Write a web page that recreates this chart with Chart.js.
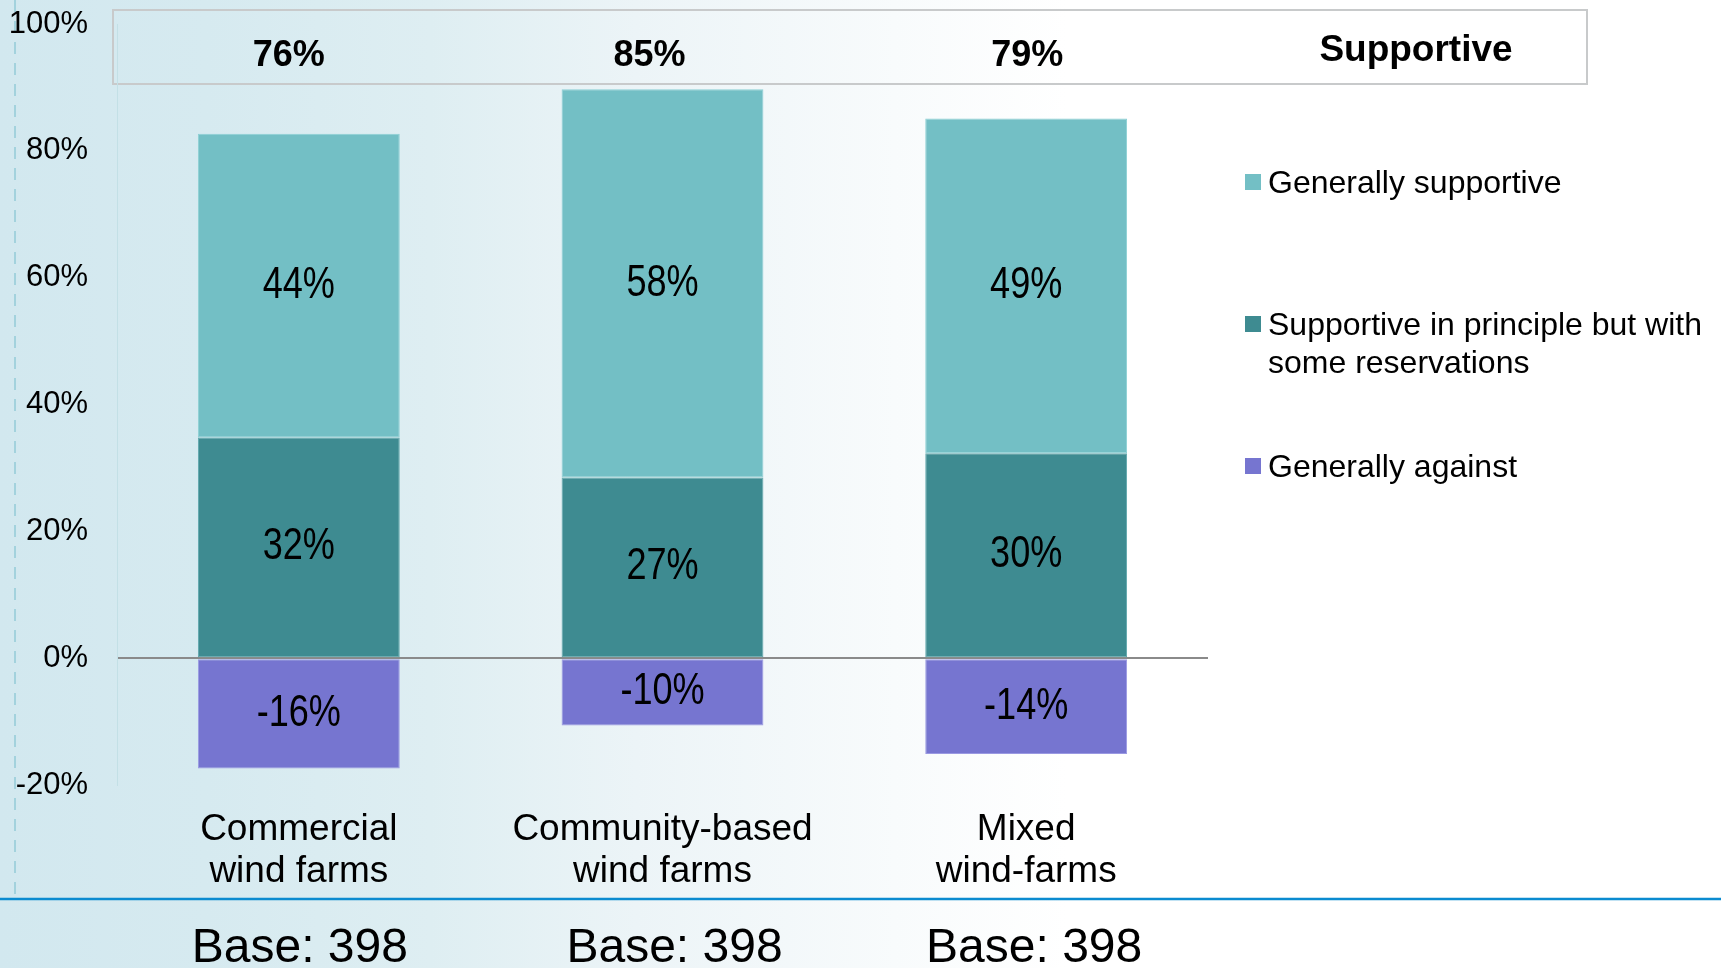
<!DOCTYPE html>
<html>
<head>
<meta charset="utf-8">
<script src="https://cdn.jsdelivr.net/npm/chart.js@4.4.1/dist/chart.umd.min.js"></script>
<style>
  html, body { margin: 0; padding: 0; overflow: hidden; }
  body {
    width: 1721px; height: 968px;
    background: linear-gradient(to right, #d2e8ef 0%, #d6eaf0 12%, #deeef2 25%, #ecf4f7 37%, #f8fbfc 52%, #ffffff 62%, #ffffff 100%);
  }
  #wrap { position: absolute; left: 0; top: 0; width: 1721px; height: 968px; }
</style>
</head>
<body>
<div id="wrap"><canvas id="chart" width="1721" height="968"></canvas></div>
<script>
// Categorias e valores (alturas lidas no eixo)
const categories = [['Commercial', 'wind farms'], ['Community-based', 'wind farms'], ['Mixed', 'wind-farms']];
const generallySupportive = [47.9, 61.2, 52.8];
const withReservations = [34.8, 28.5, 32.3];
const generallyAgainst = [-17.4, -10.6, -15.1];

// Rótulos impressos nas barras
const supportiveLabels = ['44%', '58%', '49%'];
const reservationLabels = ['32%', '27%', '30%'];
const againstLabels = ['-16%', '-10%', '-14%'];

// Totais "Supportive" e bases
const supportiveTotals = ['76%', '85%', '79%'];
const baseSizes = [398, 398, 398];

// Eixo y
const yMin = -20;
const yMax = 100;
const yStep = 20;

const legendItems = [
    { lines: ['Generally supportive'], color: '#73bfc5' },
    { lines: ['Supportive in principle but with', 'some reservations'], color: '#3e8b91' },
    { lines: ['Generally against'], color: '#7675d0' }
];

const FONT = '"Liberation Sans", Arial, sans-serif';

// pequenos ajustes horizontais dos textos de cima e de baixo
const totalNudge = [-10, -13, 1];
const baseNudge = [1, 12, 8];

// Fundo: linha tracejada, linha azul, caixa de totais, legenda e bases
const decorPlugin = {
    id: 'decor',
    beforeDraw(chart) {
        const ctx = chart.ctx;
        ctx.save();
        // linha tracejada à esquerda
        ctx.strokeStyle = '#a3d2dd';
        ctx.lineWidth = 2;
        ctx.setLineDash([12, 9]);
        ctx.beginPath();
        ctx.moveTo(15, 0);
        ctx.lineTo(15, 895);
        ctx.stroke();
        ctx.setLineDash([]);
        // linha azul
        ctx.strokeStyle = '#0b8bd0';
        ctx.lineWidth = 2.5;
        ctx.beginPath();
        ctx.moveTo(0, 899);
        ctx.lineTo(1721, 899);
        ctx.stroke();
        // caixa dos totais
        ctx.strokeStyle = '#c8cacb';
        ctx.lineWidth = 2;
        ctx.strokeRect(113, 10, 1474, 74);
        ctx.restore();
    },
    afterDraw(chart) {
        const ctx = chart.ctx;
        const x = chart.scales.x;
        ctx.save();
        ctx.fillStyle = '#000';
        ctx.textAlign = 'center';
        ctx.textBaseline = 'alphabetic';
        ctx.font = 'bold 36px ' + FONT;
        supportiveTotals.forEach((t, i) => {
            ctx.fillText(t, x.getPixelForValue(i) + totalNudge[i], 66);
        });
        ctx.font = 'bold 37px ' + FONT;
        ctx.fillText('Supportive', 1416, 61);

        // Base
        ctx.font = '48px ' + FONT;
        baseSizes.forEach((b, i) => {
            ctx.fillText('Base: ' + b, x.getPixelForValue(i) + baseNudge[i], 962);
        });

        // Legenda
        ctx.textAlign = 'left';
        ctx.font = '32px ' + FONT;
        legendItems.forEach((item, i) => {
            const cy = 182 + i * 142;
            ctx.fillStyle = item.color;
            ctx.fillRect(1245, cy - 8, 16, 16);
            ctx.fillStyle = '#000';
            item.lines.forEach((line, j) => {
                ctx.fillText(line, 1268, cy + 11 + j * 38);
            });
        });
        ctx.restore();
    }
};

// Rótulos dentro das barras (fonte condensada)
const barLabelsPlugin = {
    id: 'barLabels',
    afterDatasetsDraw(chart) {
        const ctx = chart.ctx;
        const labelSets = [reservationLabels, supportiveLabels, againstLabels];
        ctx.save();
        ctx.fillStyle = '#000';
        ctx.textAlign = 'center';
        ctx.textBaseline = 'middle';
        ctx.font = '44px ' + FONT;
        chart.data.datasets.forEach((ds, di) => {
            const meta = chart.getDatasetMeta(di);
            meta.data.forEach((el, i) => {
                const cy = (el.y + el.base) / 2;
                ctx.save();
                ctx.translate(el.x, cy);
                ctx.scale(0.82, 1);
                ctx.fillText(labelSets[di][i], 0, 0);
                ctx.restore();
            });
        });
        ctx.restore();
    }
};

document.addEventListener('DOMContentLoaded', function() {
    const ctx = document.getElementById('chart').getContext('2d');
    new Chart(ctx, {
        type: 'bar',
        data: {
            labels: categories,
            datasets: [
                {
                    label: 'Supportive in principle but with some reservations',
                    data: withReservations,
                    backgroundColor: '#3e8b91',
                    borderColor: '#5fa7ac',
                    borderWidth: 1,
                    borderSkipped: false
                },
                {
                    label: 'Generally supportive',
                    data: generallySupportive,
                    backgroundColor: '#73bfc5',
                    borderColor: '#8ccfd4',
                    borderWidth: 1,
                    borderSkipped: false
                },
                {
                    label: 'Generally against',
                    data: generallyAgainst,
                    backgroundColor: '#7675d0',
                    borderColor: '#9a99e2',
                    borderWidth: 1,
                    borderSkipped: false
                }
            ]
        },
        options: {
            responsive: false,
            animation: false,
            devicePixelRatio: 1,
            categoryPercentage: 1,
            barPercentage: 0.555,
            layout: { padding: { top: 24, right: 513, bottom: 0, left: 0 } },
            plugins: {
                legend: { display: false },
                tooltip: { enabled: false }
            },
            scales: {
                x: {
                    stacked: true,
                    grid: { display: false, drawTicks: false },
                    border: { display: false },
                    ticks: {
                        color: '#000',
                        padding: 24,
                        maxRotation: 0,
                        autoSkip: false,
                        font: { family: FONT, size: 37, lineHeight: 1.135 }
                    },
                    afterFit(scale) { scale.height = 183; }
                },
                y: {
                    stacked: true,
                    min: yMin,
                    max: yMax,
                    grid: {
                        drawTicks: false,
                        color: c => (c.tick && c.tick.value === 0) ? '#8a8a8a' : 'rgba(0,0,0,0)',
                        lineWidth: 2
                    },
                    border: { display: true, color: '#c3e0e6', width: 1 },
                    ticks: {
                        stepSize: yStep,
                        color: '#000',
                        padding: 29,
                        font: { family: FONT, size: 31 },
                        callback: v => v + '%'
                    },
                    afterFit(scale) {
                        scale.width = 117;
                        // não deixar o padding dos rótulos empurrar a área do gráfico
                        scale.paddingTop = 0;
                        scale.paddingBottom = 0;
                    }
                }
            }
        },
        plugins: [decorPlugin, barLabelsPlugin]
    });
});
</script>
</body>
</html>
